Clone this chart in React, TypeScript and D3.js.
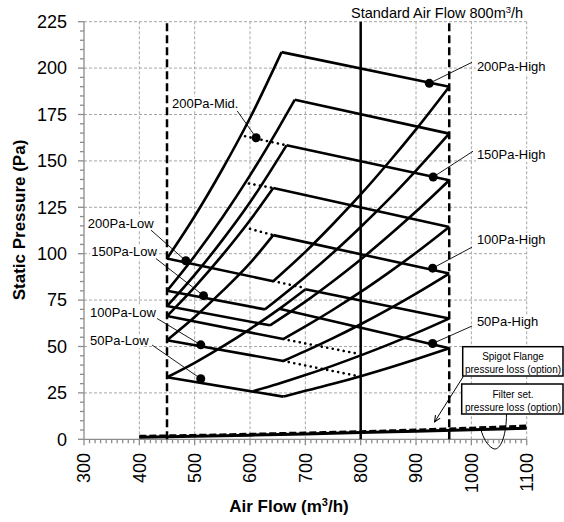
import * as d3 from "d3";
import React from "react";

// axis ticks
const flowTicks = [300, 400, 500, 600, 700, 800, 900, 1000, 1100];
const pressureTicks = [0, 25, 50, 75, 100, 125, 150, 175, 200, 225];

// rising system curves, left side of each band
const leftCurves = [
  [[450, 97.4], [500, 120.2], [550, 145.5], [600, 173.1], [657, 208.6]],
  [[450, 80], [500, 98.8], [550, 119.5], [600, 142.2], [650, 166.9], [681, 183]],
  [[450, 71.8], [500, 88.6], [550, 107.3], [600, 127.7], [666, 158.4]],
  [[450, 66.4], [500, 82], [550, 99.2], [600, 118], [642, 135.4]],
  [[450, 53.4], [500, 65.9], [550, 79.8], [600, 94.9], [642, 110]],
  [[450, 33.4], [500, 41.2], [550, 49.9], [600, 59.4], [653, 70.3], [700, 80.8]],
];

// rising system curves, right side of each band
const rightCurves = [
  [[642, 85.2], [700, 101], [750, 116], [800, 131.9], [850, 149], [900, 167], [960, 190]],
  [[627, 70], [700, 87.6], [750, 100.5], [800, 114.4], [850, 129.1], [900, 144.8], [960, 164.7]],
  [[636, 61.4], [700, 74.2], [750, 85.2], [800, 96.9], [850, 109.5], [900, 122.7], [960, 139.6]],
  [[660, 54], [700, 60.8], [750, 69.8], [800, 79.4], [850, 89.7], [900, 100.5], [960, 114.4]],
  [[660, 42.2], [700, 47.5], [750, 54.5], [800, 62], [850, 70], [900, 78.5], [960, 89.3]],
  [[660, 23], [700, 26.1], [750, 29.9], [800, 34], [850, 38.4], [900, 43.1], [960, 49]],
  [[606, 26], [650, 29.8], [700, 34.6], [750, 39.7], [800, 45.2], [850, 51], [900, 57.2], [960, 65.1]],
];

// fan curves (top edges, ending at 960)
const highLines = [
  [[657, 208.6], [960, 190]],
  [[681, 183], [960, 164.7]],
  [[666, 158.4], [960, 139.6]],
  [[642, 135.4], [960, 114.4]],
  [[642, 110], [960, 89.3]],
  [[653, 70.3], [960, 49]],
  [[700, 80.8], [960, 65.1]],
];

// fan curves (bottom edges, starting at 450)
const lowLines = [
  [[450, 97.4], [642, 85.2]],
  [[450, 80], [627, 70]],
  [[450, 71.8], [636, 61.4]],
  [[450, 66.4], [660, 54]],
  [[450, 53.4], [660, 42.2]],
  [[450, 33.4], [660, 23]],
];

// dotted extensions
const dottedLines = [
  [[591, 163.3], [666, 158.4]],
  [[598, 137.8], [642, 135.4]],
  [[600, 113.4], [642, 110]],
  [[642, 85.2], [700, 81.5]],
  [[660, 54], [790, 46.4]],
  [[660, 42.2], [796, 34]],
];

// optional accessory pressure loss
const filterLoss = [[400, 1.1], [500, 1.6], [600, 2.2], [700, 2.9], [800, 3.6], [900, 4.4], [1000, 5.1], [1100, 5.9]];
const spigotLoss = [[400, 1.6], [500, 2.1], [600, 2.7], [700, 3.4], [800, 4.1], [900, 5], [1000, 6], [1100, 7.2]];

// labelled operating points
const labelNames = ["200Pa-High", "150Pa-High", "100Pa-High", "50Pa-High", "200Pa-Mid.", "200Pa-Low", "150Pa-Low", "100Pa-Low", "50Pa-Low"];
const labelDots = [[924, 191.8], [931, 141.3], [930, 92.2], [930, 51.6], [611, 162.5], [484, 96.2], [516, 77.4], [511, 50.9], [511, 32.6]];
const labelText = [[1010, 198.5], [1010, 151.1], [1010, 105.2], [1010, 60.9], [459, 178.6], [307, 114], [313, 98.9], [311, 65.7], [311, 50.7]];
const labelLeader = [[1001, 203.1], [1003, 155.2], [1001, 103.5], [1001, 61], [576, 177.3], [421, 112.7], [430, 97.4], [432, 65.1], [423, 50.8]];

const W = 564;
const H = 522;
const font = "'Liberation Sans', Arial, sans-serif";

export default function App() {
  const x = d3.scaleLinear().domain([300, 1100]).range([84, 526.7]);
  const y = d3.scaleLinear().domain([0, 225]).range([439.3, 21.7]);

  const curve = d3
    .line<number[]>()
    .x((d) => x(d[0]))
    .y((d) => y(d[1]))
    .curve(d3.curveMonotoneX);
  const straight = d3
    .line<number[]>()
    .x((d) => x(d[0]))
    .y((d) => y(d[1]));

  const minorX = d3.range(300, 1101, 10);
  const minorY = d3.range(0, 226, 5);

  return (
    <svg
      width={W}
      height={H}
      style={{ position: "absolute", left: 0, top: 0, background: "#fff" }}
      fontFamily={font}
    >
      {/* grid */}
      <g stroke="#a6a6a6" strokeWidth={1} strokeDasharray="3,2">
        {flowTicks.slice(1).map((t) => (
          <line key={"gx" + t} x1={x(t)} x2={x(t)} y1={y(0)} y2={y(225)} />
        ))}
        {pressureTicks.slice(1).map((t) => (
          <line key={"gy" + t} x1={x(300)} x2={x(1100)} y1={y(t)} y2={y(t)} />
        ))}
      </g>

      {/* axes */}
      <g stroke="#8c8c8c" strokeWidth={1.3}>
        <line x1={x(300)} x2={x(300)} y1={y(0)} y2={y(225)} />
        <line x1={x(300)} x2={x(1100)} y1={y(0)} y2={y(0)} />
        {minorY.map((t) => (
          <line key={"my" + t} x1={x(300) - (t % 25 === 0 ? 6 : 4)} x2={x(300)} y1={y(t)} y2={y(t)} />
        ))}
        {minorX.map((t) => (
          <line key={"mx" + t} x1={x(t)} x2={x(t)} y1={y(0)} y2={y(0) + (t % 100 === 0 ? 6 : 4)} />
        ))}
      </g>

      {/* tick labels */}
      <g fontSize={18} fill="#000">
        {pressureTicks.map((t) => (
          <text key={"ty" + t} x={67} y={y(t)} dy="0.35em" textAnchor="end">
            {t}
          </text>
        ))}
        {flowTicks.map((t) => (
          <text
            key={"tx" + t}
            transform={`translate(${x(t)},${453}) rotate(-90)`}
            dy="0.35em"
            textAnchor="end"
          >
            {t}
          </text>
        ))}
      </g>

      {/* axis titles */}
      <text
        transform={`translate(${25},${220}) rotate(-90)`}
        textAnchor="middle"
        fontSize={17}
        fontWeight="bold"
      >
        Static Pressure (Pa)
      </text>
      <text x={289} y={512} textAnchor="middle" fontSize={17} fontWeight="bold">
        Air Flow (m<tspan dy="-6" fontSize={11}>3</tspan>
        <tspan dy="6">/h)</tspan>
      </text>

      {/* reference verticals */}
      <g stroke="#000" strokeWidth={2.5} fill="none">
        <line x1={x(450)} x2={x(450)} y1={y(0)} y2={y(225)} strokeDasharray="8,4" />
        <line x1={x(960)} x2={x(960)} y1={y(0)} y2={y(225)} strokeDasharray="8,4" />
        <line x1={x(800)} x2={x(800)} y1={y(0)} y2={y(225)} />
      </g>
      <text x={351} y={18} fontSize={14.5}>
        Standard Air Flow 800m<tspan dy="-5" fontSize={9.5}>3</tspan>
        <tspan dy="5">/h</tspan>
      </text>

      {/* accessory loss */}
      <path d={curve(filterLoss) || ""} stroke="#000" strokeWidth={3} fill="none" />
      <path d={curve(spigotLoss) || ""} stroke="#000" strokeWidth={3} fill="none" strokeDasharray="7,3" />

      {/* fan bands */}
      <g stroke="#000" strokeWidth={2.6} fill="none" strokeLinejoin="miter">
        {leftCurves.map((c, i) => (
          <path key={"lc" + i} d={curve(c) || ""} />
        ))}
        {rightCurves.map((c, i) => (
          <path key={"rc" + i} d={curve(c) || ""} />
        ))}
        {highLines.map((c, i) => (
          <path key={"hl" + i} d={straight(c) || ""} />
        ))}
        {lowLines.map((c, i) => (
          <path key={"ll" + i} d={straight(c) || ""} />
        ))}
      </g>
      <g stroke="#000" strokeWidth={2.6} fill="none" strokeDasharray="0.1,5.5" strokeLinecap="round">
        {dottedLines.map((c, i) => (
          <path key={"dl" + i} d={straight(c) || ""} />
        ))}
      </g>

      {/* labels */}
      {labelNames.map((name, i) => (
        <g key={name}>
          <line
            x1={x(labelDots[i][0])}
            y1={y(labelDots[i][1])}
            x2={x(labelLeader[i][0])}
            y2={y(labelLeader[i][1])}
            stroke="#000"
            strokeWidth={0.9}
          />
          <circle cx={x(labelDots[i][0])} cy={y(labelDots[i][1])} r={4.5} fill="#000" />
          <rect
            x={x(labelText[i][0]) - 1}
            y={y(labelText[i][1]) - 11}
            width={name.length * 6.9}
            height={14}
            fill="#fff"
          />
          <text x={x(labelText[i][0])} y={y(labelText[i][1])} fontSize={13}>
            {name}
          </text>
        </g>
      ))}

      {/* callouts */}
      <g fontSize={10} textAnchor="middle">
        <rect x={462.7} y={346.7} width={100.3} height={29.3} fill="#fff" stroke="#000" strokeWidth={1.5} />
        <text x={513} y={359.5}>Spigot Flange</text>
        <text x={513} y={372.5}>pressure loss (option)</text>
        <rect x={461.7} y={384} width={101.3} height={30} fill="#fff" stroke="#000" strokeWidth={1.5} />
        <text x={513} y={397.5}>Filter set.</text>
        <text x={513} y={410.5}>pressure loss (option)</text>
      </g>
      <defs>
        <marker id="arr" viewBox="0 0 10 10" refX="9" refY="5" markerWidth="7" markerHeight="7" orient="auto">
          <path d="M0,1 L9,5 L0,9" fill="none" stroke="#000" strokeWidth={1.5} />
        </marker>
      </defs>
      <line x1={463.3} y1={376.5} x2={434.5} y2={422} stroke="#000" strokeWidth={1} markerEnd="url(#arr)" />
      <path
        d="M506.5,414 C506.5,436 500,452 493,448.5 C487,445.5 483,437 481,430"
        stroke="#000"
        strokeWidth={1}
        fill="none"
      />
    </svg>
  );
}
